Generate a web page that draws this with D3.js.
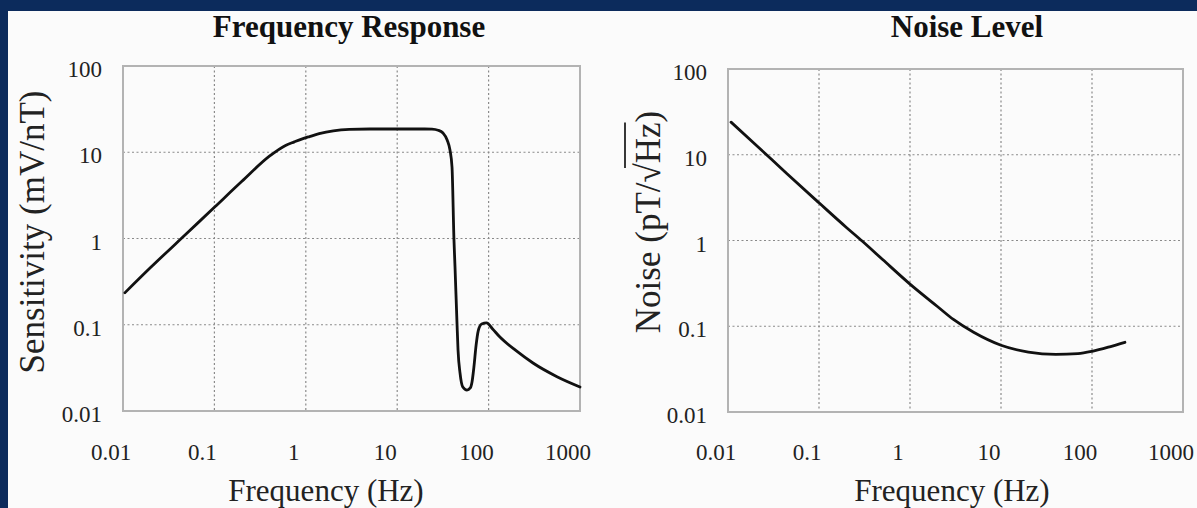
<!DOCTYPE html>
<html>
<head>
<meta charset="utf-8">
<script src="https://cdn.jsdelivr.net/npm/d3@7"></script>
<style>
  body { margin: 0; background: #0c2b5c; }
  svg { display: block; }
  text { font-family: "Liberation Serif", "Times New Roman", serif; fill: #222; }
</style>
</head>
<body>
<svg id="chart" width="1197" height="508"></svg>
<script>
// tick values shared by both panels
const freqTicks = [0.01, 0.1, 1, 10, 100, 1000];
const levelTicks = [0.01, 0.1, 1, 10, 100];
const tickLabels = {0.01: "0.01", 0.1: "0.1", 1: "1", 10: "10", 100: "100", 1000: "1000"};

// frequency response
const respFreq = [0.0105, 0.02, 0.05, 0.1, 0.2, 0.4, 0.6, 0.75, 0.9, 1.1, 1.4, 2, 3, 5, 10, 20, 24, 28, 31.7, 35.2, 37.8, 39.8, 41.8, 42.9, 45.1, 46.3, 48.7, 52.2, 58, 63, 66, 69, 73, 77, 84, 95, 110, 133, 200, 306, 560, 1000];
const respSens = [0.235, 0.46, 1.15, 2.3, 4.6, 9.0, 12.0, 13.2, 14.2, 15.2, 16.4, 17.7, 18.4, 18.6, 18.6, 18.6, 18.5, 18.0, 16.7, 13.9, 10.6, 6.7, 0.96, 0.47, 0.105, 0.051, 0.0275, 0.019, 0.0175, 0.0185, 0.022, 0.032, 0.058, 0.085, 0.102, 0.105, 0.09, 0.072, 0.05, 0.036, 0.025, 0.019];

// noise level
const noiseFreq = [0.0108, 0.02, 0.0445, 0.1, 0.2, 0.3, 0.5, 1, 2, 3, 5, 10, 20, 40, 70, 100, 160, 230];
const noiseLevel = [24, 13.2, 6.0, 2.75, 1.42, 0.98, 0.6, 0.31, 0.17, 0.12, 0.085, 0.06, 0.05, 0.047, 0.048, 0.051, 0.058, 0.065];

const svg = d3.select("#chart");

// white slide panel
svg.append("rect").attr("x", 8).attr("y", 11).attr("width", 1189).attr("height", 497).attr("fill", "#fbfbfb");

function drawPanel(box, freqs, vals, title, titleX, xTitleX, yTitle) {
  const x = d3.scaleLog().domain([0.01, 1000]).range([box.left, box.right]);
  const y = d3.scaleLog().domain([0.01, 100]).range([box.bottom, box.top]);
  const g = svg.append("g");

  // dotted grid
  g.selectAll(".vgrid").data(freqTicks.slice(1, -1)).enter().append("line")
    .attr("x1", d => x(d)).attr("x2", d => x(d))
    .attr("y1", box.top).attr("y2", box.bottom)
    .attr("stroke", "#8a8a8a").attr("stroke-width", 1.2).attr("stroke-dasharray", "2,2.5");
  g.selectAll(".hgrid").data(levelTicks.slice(1, -1)).enter().append("line")
    .attr("y1", d => y(d)).attr("y2", d => y(d))
    .attr("x1", box.left).attr("x2", box.right)
    .attr("stroke", "#8a8a8a").attr("stroke-width", 1.2).attr("stroke-dasharray", "2,2.5");

  // frame
  g.append("rect").attr("x", box.left).attr("y", box.top)
    .attr("width", box.right - box.left).attr("height", box.bottom - box.top)
    .attr("fill", "none").attr("stroke", "#b3b3b3").attr("stroke-width", 2);

  // tick labels
  g.selectAll(".xt").data(freqTicks).enter().append("text")
    .attr("x", d => x(d) - 12).attr("y", 460)
    .attr("text-anchor", "middle").attr("font-size", 23)
    .text(d => tickLabels[d]);
  g.selectAll(".yt").data(levelTicks).enter().append("text")
    .attr("x", box.left - 21).attr("y", d => y(d) + 3)
    .attr("dy", "0.35em").attr("text-anchor", "end").attr("font-size", 23)
    .text(d => tickLabels[d]);

  // curve
  const line = d3.line().x((d, i) => x(freqs[i])).y(d => y(d)).curve(d3.curveMonotoneX);
  g.append("path").datum(vals).attr("d", line)
    .attr("fill", "none").attr("stroke", "#111").attr("stroke-width", 2.8)
    .attr("stroke-linejoin", "round").attr("stroke-linecap", "round");

  // titles
  g.append("text").attr("x", titleX).attr("y", 37).attr("text-anchor", "middle")
    .attr("font-size", 31).attr("font-weight", "bold").style("fill", "#111").text(title);
  g.append("text").attr("x", xTitleX).attr("y", 501).attr("text-anchor", "middle")
    .attr("font-size", 31).text("Frequency (Hz)");

  const yt = g.append("g").attr("transform", `translate(${yTitle.x},${yTitle.y}) rotate(-90)`);
  const t = yt.append("text").attr("text-anchor", "middle").attr("dy", "0.35em")
    .attr("font-size", yTitle.size);
  return {g: yt, t: t};
}

const left = drawPanel({left: 123, right: 580, top: 66, bottom: 411}, respFreq, respSens,
  "Frequency Response", 349, 326, {x: 32, y: 232, size: 35});
left.t.text("Sensitivity (mV/nT)");

const right = drawPanel({left: 728, right: 1183, top: 69, bottom: 412}, noiseFreq, noiseLevel,
  "Noise Level", 967, 952, {x: 648, y: 222, size: 35});
const noiseLabel = "Noise (pT/\u221AHz)";
right.t.text(noiseLabel);

// overline of the square root over "Hz"
const node = right.t.node();
const total = node.getComputedTextLength();
const iRoot = noiseLabel.indexOf("\u221A");
const iHz = noiseLabel.indexOf("Hz");
const x0 = -total / 2 + node.getSubStringLength(0, iRoot) + node.getSubStringLength(iRoot, 1) * 0.75;
const x1 = -total / 2 + node.getSubStringLength(0, iHz + 2);
right.g.append("line").attr("x1", x0).attr("x2", x1).attr("y1", -23).attr("y2", -23)
  .attr("stroke", "#222").attr("stroke-width", 1.8);
</script>
</body>
</html>
